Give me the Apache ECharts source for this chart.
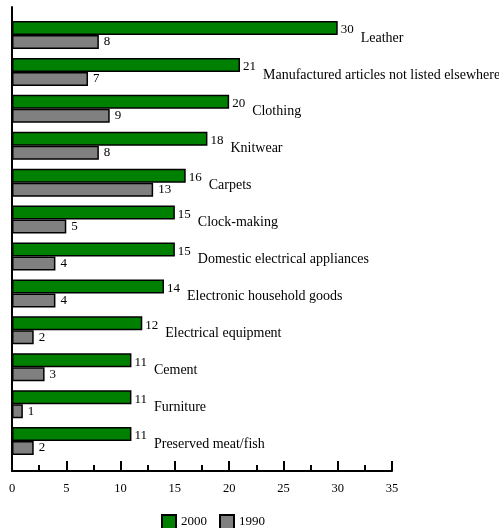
<!DOCTYPE html>
<html><head><meta charset="utf-8">
<script src="https://cdn.jsdelivr.net/npm/echarts@6/dist/echarts.min.js"></script>
<style>html,body{margin:0;padding:0;background:#fff}#c{width:499px;height:528px}</style>
</head><body><div id="c"></div>
<script>
const categories = ['Leather','Manufactured articles not listed elsewhere','Clothing','Knitwear','Carpets','Clock-making','Domestic electrical appliances','Electronic household goods','Electrical equipment','Cement','Furniture','Preserved meat/fish'];
const values2000 = [30,21,20,18,16,15,15,14,12,11,11,11];
const values1990 = [8,7,9,8,13,5,4,4,2,3,1,2];
const xTicks = {min:0, max:35, interval:5};
const FONT = 'Liberation Serif';

const chart = echarts.init(document.getElementById('c'), null, {renderer:'canvas'});
chart.setOption({
  animation:false,
  textStyle:{fontFamily:FONT},
  grid:[
    {left:12, right:107, top:7, bottom:57},
    {left:12, right:107, top:16.5, bottom:68.5}
  ],
  xAxis:[
    {gridIndex:0, type:'value', min:xTicks.min, max:xTicks.max, interval:xTicks.interval,
     axisLine:{show:true, lineStyle:{color:'#000', width:2}},
     axisTick:{show:true, inside:true, length:10, lineStyle:{color:'#000', width:2}},
     minorTick:{show:true, splitNumber:2, length:6, lineStyle:{color:'#000', width:2}},
     splitLine:{show:false},
     axisLabel:{color:'#000', fontFamily:FONT, fontSize:12.5, margin:11}},
    {gridIndex:1, type:'value', min:xTicks.min, max:xTicks.max, show:false}
  ],
  yAxis:[
    {gridIndex:0, type:'value', min:0, max:1,
     axisLine:{show:true, lineStyle:{color:'#000', width:2}},
     axisTick:{show:false}, axisLabel:{show:false}, splitLine:{show:false}},
    {gridIndex:1, type:'category', data:categories, inverse:true, show:false}
  ],
  legend:{
    data:['2000','1990'], left:156, top:509, itemWidth:14, itemHeight:14, itemGap:12, icon:'rect',
    textStyle:{fontFamily:FONT, fontSize:13, color:'#000'}
  },
  series:[
    {name:'2000', type:'bar', xAxisIndex:1, yAxisIndex:1, data:values2000,
     barWidth:14, barGap:'0%',
     itemStyle:{color:'#008000', borderColor:'#000', borderWidth:1.5},
     label:{show:true, position:'right', distance:3, offset:[0,6],
       formatter:p=>'{v|'+p.value+'}{n|'+categories[p.dataIndex]+'}',
       rich:{
         v:{fontFamily:FONT, fontSize:13, color:'#000', padding:[0,0,8,0]},
         n:{fontFamily:FONT, fontSize:14, color:'#000', padding:[8,0,0,7]}
       }}},
    {name:'1990', type:'bar', xAxisIndex:1, yAxisIndex:1, data:values1990,
     barWidth:14, barGap:'0%',
     itemStyle:{color:'#808080', borderColor:'#000', borderWidth:1.5},
     label:{show:true, position:'right', distance:5, color:'#000', fontFamily:FONT, fontSize:13}}
  ]
});
</script></body></html>
